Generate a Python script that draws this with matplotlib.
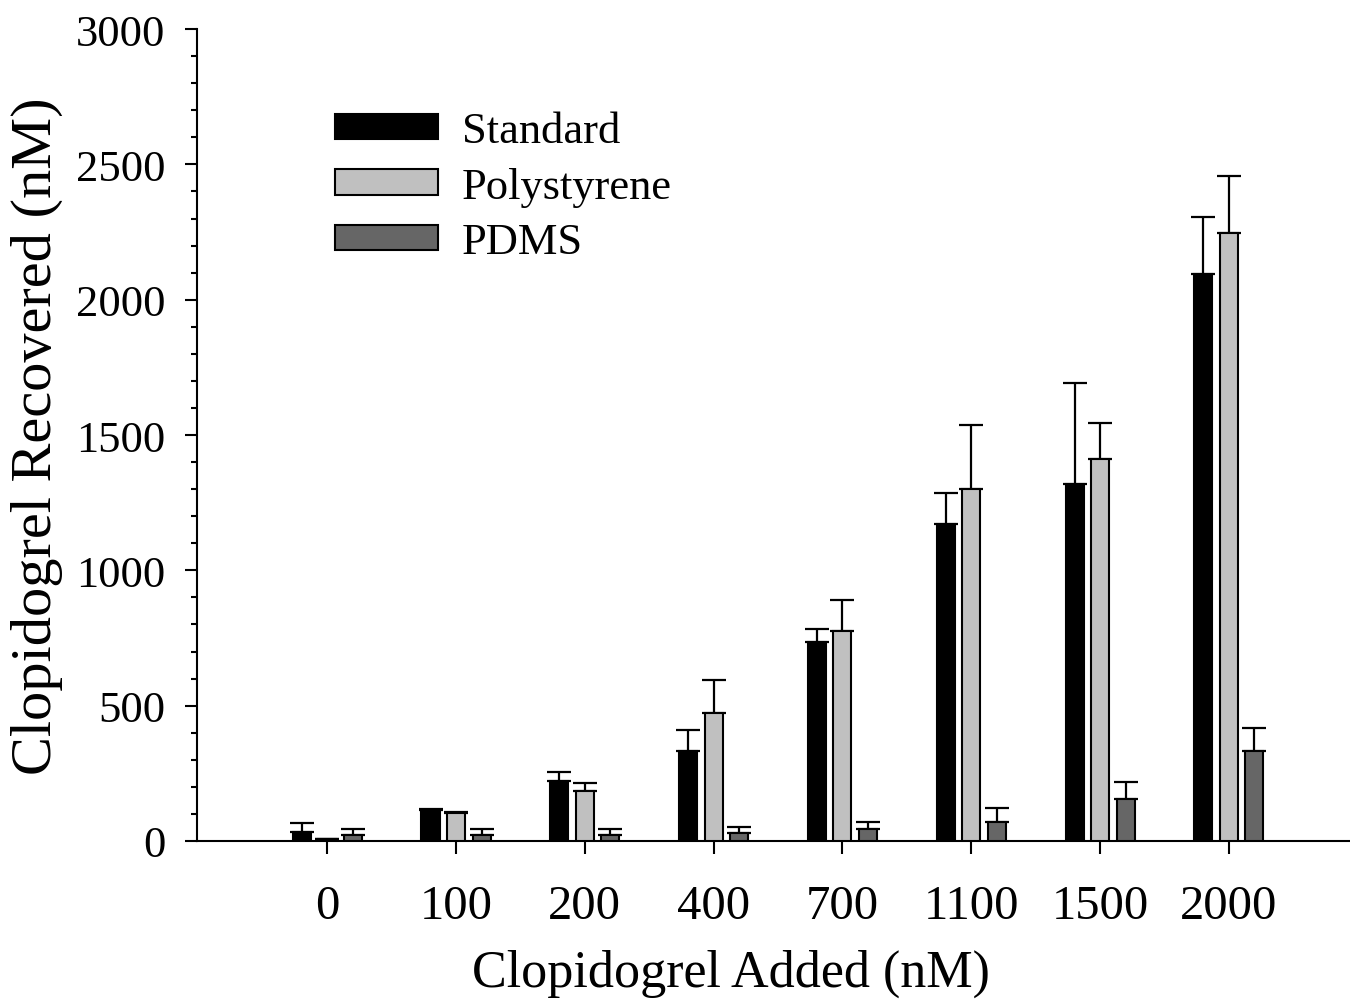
import matplotlib
matplotlib.use("Agg")
import matplotlib.pyplot as plt
from matplotlib.ticker import MultipleLocator
import numpy as np

plt.rcParams['font.family'] = ['Liberation Serif', 'DejaVu Serif']

categories = ['0', '100', '200', '400', '700', '1100', '1500', '2000']
standard = [32, 114, 223, 334, 736, 1171, 1319, 2094]
standard_err = [33, 3, 32, 76, 47, 115, 373, 211]
polystyrene = [7, 103, 185, 473, 776, 1300, 1410, 2247]
polystyrene_err = [0, 4, 28, 121, 113, 237, 133, 211]
pdms = [22, 22, 22, 28, 44, 71, 156, 331]
pdms_err = [22, 22, 22, 22, 27, 50, 63, 86]

fig = plt.figure(figsize=(13.5, 10.04), dpi=100)
ax = fig.add_axes([0.146, 0.1614, 0.854, 0.8086])

x = np.arange(len(categories))
w = 0.14
off = 0.198
series = [
    (standard, standard_err, '#000000', 'Standard', -off),
    (polystyrene, polystyrene_err, '#c0c0c0', 'Polystyrene', 0.0),
    (pdms, pdms_err, '#666666', 'PDMS', off),
]
for vals, err, col, lab, dx in series:
    ax.bar(x + dx, vals, width=w, color=col, edgecolor='black', linewidth=1.5,
           label=lab, zorder=3)
    ax.errorbar(x + dx, vals, yerr=[np.zeros(len(err)), err], fmt='none',
                ecolor='black', elinewidth=1.6, capsize=8.5, capthick=1.6, zorder=2)

ax.set_xlim(-1.01, 7.94)
ax.set_ylim(0, 3000)
ax.set_yticks([0, 500, 1000, 1500, 2000, 2500, 3000])
ax.yaxis.set_minor_locator(MultipleLocator(100))
ax.set_xticks(x)
ax.set_xticklabels(categories)

for s in ['top', 'right']:
    ax.spines[s].set_visible(False)
for s in ['left', 'bottom']:
    ax.spines[s].set_linewidth(1.5)

ax.tick_params(axis='y', which='major', direction='out', length=9, width=1.5, labelsize=32, pad=14)
ax.tick_params(axis='y', which='minor', direction='out', length=4.5, width=1.5)
ax.tick_params(axis='x', direction='out', length=9, width=1.5, labelsize=35, pad=22)

ax.set_xlabel('Clopidogrel Added (nM)', fontsize=37.5)
ax.xaxis.set_label_coords(0.463, -0.133)
ax.set_ylabel('Clopidogrel Recovered (nM)', fontsize=42)
ax.yaxis.set_label_coords(-0.116, 0.5)

ax.legend(loc='upper left', bbox_to_anchor=(0.12, 0.899), frameon=False,
          fontsize=32, handlelength=2.3, handleheight=0.5, handletextpad=0.55,
          labelspacing=0.35, borderpad=0, borderaxespad=0)

fig.savefig('out.png', dpi=100)
